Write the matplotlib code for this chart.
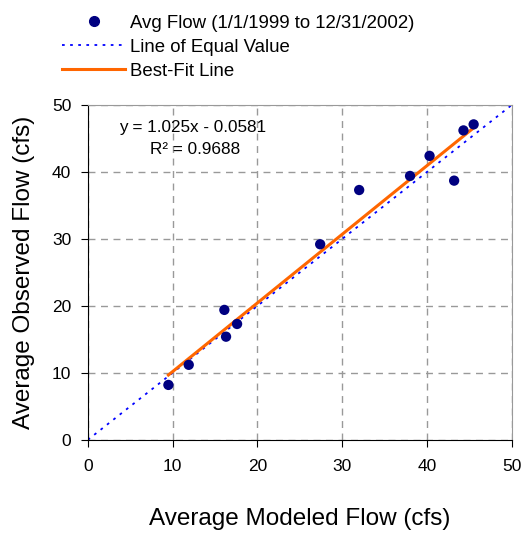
import matplotlib.pyplot as plt
from matplotlib.lines import Line2D

plt.rcParams['font.family'] = ['Liberation Sans', 'DejaVu Sans']

# average modeled vs observed flow (cfs)
modeled = [9.5, 11.9, 16.1, 16.3, 17.6, 27.4, 32.0, 38.0, 40.3, 43.2, 44.3, 45.5]
observed = [8.2, 11.2, 19.4, 15.4, 17.3, 29.2, 37.3, 39.4, 42.4, 38.7, 46.2, 47.1]
slope = 1.025
intercept = -0.0581
r2 = 0.9688

fig = plt.figure(figsize=(5.26, 5.41), dpi=100)
ax = fig.add_axes([0.167, 0.187, 0.806, 0.619])

# line of equal value
ax.plot([0, 50], [0, 50], color='#0000ff', linestyle=(0, (1.5, 3)), linewidth=1.3, zorder=2)
# best fit
x0, x1 = min(modeled), max(modeled)
ax.plot([x0, x1], [slope * x0 + intercept, slope * x1 + intercept],
        color='#ff6600', linewidth=2.2, zorder=3)
ax.scatter(modeled, observed, s=55, color='#000080', zorder=4, edgecolors='none')

ax.set_xlim(0, 50)
ax.set_ylim(0, 50)
ax.set_xticks(range(0, 51, 10))
ax.set_yticks(range(0, 51, 10))
ax.grid(True, color='#999999', linestyle=(0, (5, 4)), linewidth=1)
ax.set_axisbelow(True)
ax.tick_params(direction='out', length=5, labelsize=12.5)
ax.tick_params(axis='x', pad=9)
ax.tick_params(axis='y', pad=7)
for s in ['top', 'right']:
    ax.spines[s].set_color('#999999')
for s in ['left', 'bottom']:
    ax.spines[s].set_color('black')

ax.set_xlabel('Average Modeled Flow (cfs)', fontsize=17.5, labelpad=24)
ax.set_ylabel('Average Observed Flow (cfs)', fontsize=17.5, labelpad=12)

ax.text(3.7, 46.6, 'y = 1.025x - 0.0581', fontsize=12.3, va='center')
ax.text(7.3, 43.3, 'R\u00b2 = %.4f' % r2, fontsize=12.3, va='center')

handles = [
    Line2D([], [], marker='o', color='#000080', linestyle='none', markersize=7),
    Line2D([], [], color='#0000ff', linestyle=(0, (1.5, 3)), linewidth=1.3),
    Line2D([], [], color='#ff6600', linewidth=2.2),
]
labels = ['Avg Flow (1/1/1999 to 12/31/2002)', 'Line of Equal Value', 'Best-Fit Line']
fig.legend(handles, labels, loc='upper left', bbox_to_anchor=(0.093, 0.997),
           frameon=False, fontsize=13.4, handlelength=3.4, handletextpad=0.27,
           labelspacing=0.37, borderaxespad=0.3)

fig.savefig('out.png', dpi=100)
